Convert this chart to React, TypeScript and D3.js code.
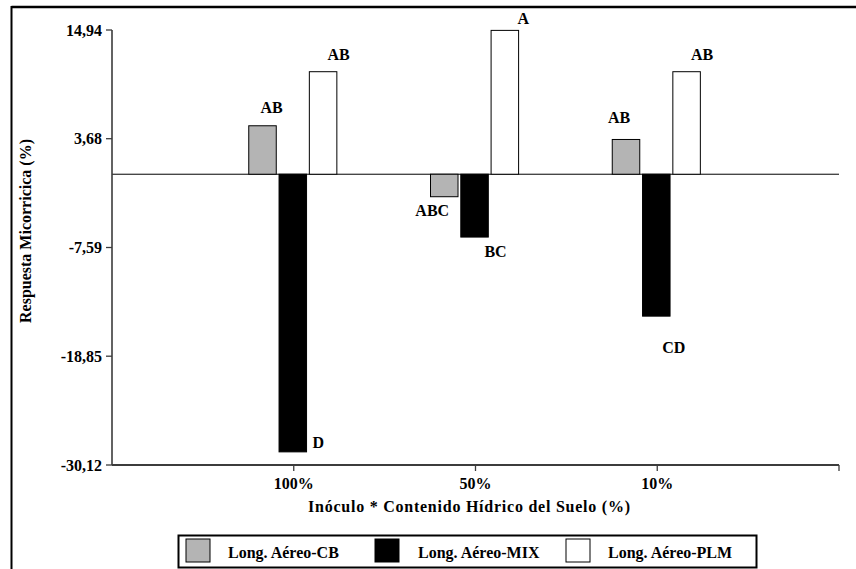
import React from "react";
import * as d3 from "d3";

// Respuesta micorrícica (%) por nivel de contenido hídrico del suelo
const categories = ["100%", "50%", "10%"];
const seriesNames = ["Long. Aéreo-CB", "Long. Aéreo-MIX", "Long. Aéreo-PLM"];
const valuesCB = [5.02, -2.33, 3.6];
const valuesMIX = [-28.76, -6.51, -14.7];
const valuesPLM = [10.62, 14.9, 10.62];
const lettersCB = ["AB", "ABC", "AB"];
const lettersMIX = ["D", "BC", "CD"];
const lettersPLM = ["AB", "A", "AB"];
const yTicks = [14.94, 3.68, -7.59, -18.85, -30.12];
const yDomain: [number, number] = [-30.12, 14.94];

const W = 856;
const H = 569;
const FONT = "'Liberation Serif', 'Times New Roman', serif";
const fills = ["#b4b4b4", "#000000", "#ffffff"];

// hand-placed offsets of the significance letters [dx from bar centre, dy from bar end]
const letterNudge: [number, number][][] = [
  [[9, -18.5], [-12, 14], [-7, -22]],
  [[25.5, -9.5], [21, 14], [17.5, 31.5]],
  [[15.5, -17.5], [18.5, -11.5], [15.5, -17.5]],
];

export default function App() {
  const left = 112;
  const right = 839;
  const top = 30;
  const bottom = 465;

  const y = d3.scaleLinear().domain(yDomain).range([bottom, top]);
  const x = d3.scaleLinear().domain([0, categories.length + 1]).range([left, right]);
  const inner = d3
    .scaleBand<number>()
    .domain([0, 1, 2])
    .range([-45, 43.1])
    .paddingInner(0.092)
    .paddingOuter(0);

  const series = [valuesCB, valuesMIX, valuesPLM];
  const letters = [lettersCB, lettersMIX, lettersPLM];
  const y0 = y(0);

  const fmt = (v: number) => v.toFixed(2).replace(".", ",");

  const legendItems = [
    { sx: 186, tx: 228 },
    { sx: 375, tx: 418 },
    { sx: 566, tx: 608 },
  ];

  return (
    <svg
      width={W}
      height={H}
      style={{ position: "absolute", left: 0, top: 0, background: "#fff" }}
      fontFamily={FONT}
      fontWeight="bold"
    >
      <rect x={0} y={0} width={W} height={H} fill="#fff" />
      {/* outer frame */}
      <line x1={11.5} y1={7} x2={W} y2={7} stroke="#000" strokeWidth={2.5} />
      <line x1={11.5} y1={6} x2={11.5} y2={H} stroke="#000" strokeWidth={2} />

      {/* zero line */}
      <line x1={left} x2={right} y1={y0} y2={y0} stroke="#000" strokeWidth={1} />

      {/* bars */}
      {series.map((vals, s) =>
        vals.map((v, i) => {
          const cx = x(i + 1);
          const bx = cx + (inner(s) as number);
          const bw = inner.bandwidth();
          const yt = Math.min(y(v), y0);
          const h = Math.abs(y(v) - y0);
          return (
            <rect
              key={`b${s}-${i}`}
              x={bx}
              y={yt}
              width={bw}
              height={h}
              fill={fills[s]}
              stroke="#000"
              strokeWidth={1}
            />
          );
        })
      )}

      {/* significance letters */}
      {series.map((vals, s) =>
        vals.map((v, i) => {
          const cx = x(i + 1) + (inner(s) as number) + inner.bandwidth() / 2;
          const [dx, dy] = letterNudge[s][i];
          return (
            <text
              key={`l${s}-${i}`}
              x={cx + dx}
              y={y(v) + dy}
              textAnchor="middle"
              dominantBaseline="central"
              fontSize={16}
              fill="#000"
            >
              {letters[s][i]}
            </text>
          );
        })
      )}

      {/* y axis */}
      <line x1={left} x2={left} y1={top} y2={bottom} stroke="#3c3c3c" strokeWidth={1.6} />
      {yTicks.map((t) => (
        <g key={`yt${t}`}>
          <line x1={left - 6} x2={left} y1={y(t)} y2={y(t)} stroke="#3c3c3c" strokeWidth={1.3} />
          <text
            x={left - 10}
            y={y(t)}
            textAnchor="end"
            dominantBaseline="central"
            fontSize={16}
            fill="#000"
          >
            {fmt(t)}
          </text>
        </g>
      ))}

      {/* x axis */}
      <line x1={left} x2={right} y1={bottom} y2={bottom} stroke="#3c3c3c" strokeWidth={1.8} />
      <line x1={right} x2={right} y1={bottom} y2={bottom + 6} stroke="#3c3c3c" strokeWidth={1.3} />
      {categories.map((c, i) => (
        <g key={`xt${c}`}>
          <line x1={x(i + 1)} x2={x(i + 1)} y1={bottom} y2={bottom + 6} stroke="#3c3c3c" strokeWidth={1.3} />
          <text
            x={x(i + 1)}
            y={bottom + 18}
            textAnchor="middle"
            dominantBaseline="central"
            fontSize={16}
            fill="#000"
          >
            {c}
          </text>
        </g>
      ))}

      {/* axis titles */}
      <text
        x={469}
        y={506}
        textAnchor="middle"
        dominantBaseline="central"
        fontSize={16}
        textLength={322}
        lengthAdjust="spacing"
        fill="#000"
      >
        Inóculo * Contenido Hídrico del Suelo (%)
      </text>
      <text
        transform={`translate(25,${231}) rotate(-90)`}
        textAnchor="middle"
        dominantBaseline="central"
        fontSize={16}
        fill="#000"
      >
        Respuesta Micorricica (%)
      </text>

      {/* legend */}
      <rect x={178.5} y={535.5} width={578} height={32} fill="#fff" stroke="#000" strokeWidth={2} />
      {seriesNames.map((n, s) => (
        <g key={`lg${s}`}>
          <rect
            x={legendItems[s].sx}
            y={539}
            width={24}
            height={23}
            fill={fills[s]}
            stroke="#000"
            strokeWidth={1}
          />
          <text
            x={legendItems[s].tx}
            y={552}
            dominantBaseline="central"
            fontSize={16}
            fill="#000"
          >
            {n}
          </text>
        </g>
      ))}
    </svg>
  );
}
